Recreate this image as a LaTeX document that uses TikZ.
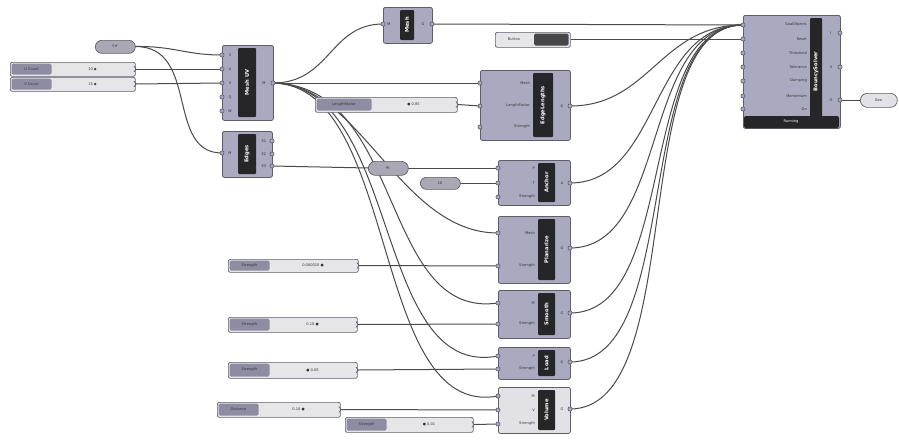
\documentclass[tikz,border=0pt]{standalone}
\usepackage{fontspec}
\setmainfont{DejaVu Sans}
\usetikzlibrary{backgrounds}
\definecolor{body}{HTML}{ABA9C0}
\definecolor{edgec}{HTML}{5E5D6A}
\definecolor{stripc}{HTML}{262629}
\definecolor{wirec}{HTML}{4A4A4A}
\definecolor{slab}{HTML}{8E8CA2}
\definecolor{sval}{HTML}{E6E6E8}
\definecolor{lite}{HTML}{E2E2E6}
\definecolor{pillc}{HTML}{A9A8B4}
\tikzset{
  comp/.style={draw=edgec, fill=body, line width=0.8pt, rounded corners=2pt, inner sep=0pt, anchor=north west},
  sld/.style={draw=edgec, fill=sval, line width=0.7pt, rounded corners=2pt, inner sep=0pt, anchor=north west},
  pillst/.style={draw=edgec, line width=0.7pt, inner sep=0pt, anchor=north west},
  portst/.style={draw=edgec, fill=body, line width=0.6pt},
  lbl/.style={font=\fontsize{3.6}{4}\selectfont, text=black!80, inner sep=0pt},
  ttl/.style={font=\fontsize{5.2}{6}\selectfont\bfseries, text=white, inner sep=0pt, rotate=90},
  wire/.style={draw=wirec, line width=1.0pt},
}
% name, x, y, w, h, stripx, stripw, title, fill
\newcommand{\ghcomp}[9]{%
  \node[comp, fill=#9, minimum width=#4pt, minimum height=#5pt] (#1) at (#2,#3) {};
  \fill[stripc, rounded corners=1pt] (#6,{#3+3}) rectangle ++(#7,{#5-6});
  \node[ttl] at ({#6+#7/2},{#3+#5/2}) {#8};}
% name, x, y, label x, label, anchor
\newcommand{\ghport}[6]{%
  \coordinate (#1) at (#2,#3);
  \draw[portst] (#2,#3) circle (2.1pt);
  \node[lbl, anchor=#6] at (#4,#3) {#5};}
% name, x, y, w, h, label width, label, value
\newcommand{\ghslider}[8]{%
  \node[sld, minimum width=#4pt, minimum height=#5pt] (#1) at (#2,#3) {};
  \fill[slab, rounded corners=1.5pt] ({#2+1.5},{#3+1.5}) rectangle ++(#6,{#5-3});
  \node[lbl] at ({#2+1.5+#6/2},{#3+#5/2}) {#7};
  \node[lbl] at ({#2+#6+(#4-#6)/2},{#3+#5/2}) {#8};
  \coordinate (#1-o) at ({#2+#4+1},{#3+#5/2});
  \draw[edgec, line width=0.7pt] ({#2+#4-1},{#3+#5/2-3}) -- (#1-o) -- ({#2+#4-1},{#3+#5/2+3});}
% name, x, y, w, h, label, fill
\newcommand{\ghpill}[7]{%
  \node[pillst, fill=#7, rounded corners={#5/2*1pt}, minimum width=#4pt, minimum height=#5pt] (#1) at (#2,#3) {};
  \node[lbl] at ({#2+#4/2},{#3+#5/2}) {#6};
  \coordinate (#1-i) at (#2,{#3+#5/2});
  \coordinate (#1-o) at ({#2+#4},{#3+#5/2});}
\begin{document}
\begin{tikzpicture}[x=1pt,y=-1pt]
\useasboundingbox (0,0) rectangle (899,439);
\begin{scope}[on background layer]
\fill[white] (0,0) rectangle (899,439);
\end{scope}

% ---------------- components ----------------
\ghcomp{Ctop}{383}{7}{49}{36}{400}{14}{Mesh}{body}
\ghport{Ctop-i}{383}{24}{389}{M}{center}
\ghport{Ctop-o}{432}{24}{423}{G}{center}

\ghcomp{MUV}{222}{45}{51}{75}{238}{18}{Mesh UV}{body}
\ghport{MUV-i1}{222}{55}{230}{S}{center}
\ghport{MUV-i2}{222}{69}{230}{U}{center}
\ghport{MUV-i3}{222}{83}{230}{V}{center}
\ghport{MUV-i4}{222}{97}{230}{Q}{center}
\ghport{MUV-i5}{222}{111}{230}{W}{center}
\ghport{MUV-o}{273}{83}{264}{M}{center}

\ghcomp{Cdec}{222}{131}{50}{46}{238}{18}{Edges}{body}
\ghport{Cdec-i}{222}{153}{230}{M}{center}
\ghport{Cdec-o1}{272}{141}{264}{E1}{center}
\ghport{Cdec-o2}{272}{154}{264}{E2}{center}
\ghport{Cdec-o3}{272}{166}{264}{E3}{center}

\ghcomp{EL}{480}{70}{90}{70}{533}{20}{EdgeLengths}{body}
\ghport{EL-i1}{480}{83}{530}{Mesh}{east}
\ghport{EL-i2}{480}{106}{530}{LengthFactor}{east}
\ghport{EL-i3}{480}{127}{530}{Strength}{east}
\ghport{EL-o}{570}{106}{562}{G}{center}

\ghcomp{Anc}{498}{160}{72}{45}{538}{17}{Anchor}{body}
\ghport{Anc-i1}{498}{168}{535}{P}{east}
\ghport{Anc-i2}{498}{183}{535}{T}{east}
\ghport{Anc-i3}{498}{197}{535}{Strength}{east}
\ghport{Anc-o}{570}{183}{562}{A}{center}

\ghcomp{Pla}{498}{216}{72}{67}{538}{17}{Planarize}{body}
\ghport{Pla-i1}{498}{233}{535}{Mesh}{east}
\ghport{Pla-i2}{498}{266}{535}{Strength}{east}
\ghport{Pla-o}{570}{248}{562}{G}{center}

\ghcomp{Smo}{498}{290}{72}{48}{538}{17}{Smooth}{body}
\ghport{Smo-i1}{498}{303}{535}{M}{east}
\ghport{Smo-i2}{498}{324}{535}{Strength}{east}
\ghport{Smo-o}{570}{313}{562}{G}{center}

\ghcomp{Loa}{498}{347}{72}{32}{538}{17}{Load}{body}
\ghport{Loa-i1}{498}{356}{535}{P}{east}
\ghport{Loa-i2}{498}{369}{535}{Strength}{east}
\ghport{Loa-o}{570}{362}{562}{G}{center}

\ghcomp{Vol}{498}{387}{72}{46}{538}{17}{Volume}{lite}
\ghport{Vol-i1}{498}{396}{535}{M}{east}
\ghport{Vol-i2}{498}{410}{535}{V}{east}
\ghport{Vol-i3}{498}{424}{535}{Strength}{east}
\ghport{Vol-o}{570}{409}{562}{G}{center}

\ghcomp{BS}{743}{15}{97}{113}{810}{12}{BouncySolver}{body}
\fill[stripc, rounded corners=2pt] (744,116) rectangle (839,128);
\node[lbl, text=white] (BSbar) at (791,122) {Running};
\ghport{BS-i1}{743}{25}{807}{GoalObjects}{east}
\ghport{BS-i2}{743}{39}{807}{Reset}{east}
\ghport{BS-i3}{743}{53}{807}{Threshold}{east}
\ghport{BS-i4}{743}{67}{807}{Tolerance}{east}
\ghport{BS-i5}{743}{81}{807}{Damping}{east}
\ghport{BS-i6}{743}{96}{807}{Momentum}{east}
\ghport{BS-i7}{743}{109}{807}{On}{east}
\ghport{BS-o1}{840}{33}{831}{I}{center}
\ghport{BS-o2}{840}{67}{831}{V}{center}
\ghport{BS-o3}{840}{100}{831}{O}{center}

% ---------------- sliders ----------------
\ghslider{SU}{10}{62}{125}{14}{40}{U Count}{10 ◆}
\ghslider{SV}{10}{77}{125}{14}{40}{V Count}{15 ◆}
\ghslider{SLF}{315}{97}{142}{15}{55}{LengthFactor}{● 0.85}
\ghslider{S1}{228}{259}{130}{13}{40}{Strength}{0.000010 ●}
\ghslider{S2}{228}{317}{129}{15}{40}{Strength}{0.10 ●}
\ghslider{S3}{228}{362}{129}{16}{40}{Strength}{● 0.05}
\ghslider{S4}{217}{402}{123}{15}{40}{Distance}{0.10 ●}
\ghslider{S5}{345}{417}{128}{15}{40}{Strength}{● 0.01}
% toggle
\node[sld, minimum width=75pt, minimum height=15pt] (TG) at (495,32) {};
\fill[stripc!85, rounded corners=1.5pt] (534,33.5) rectangle (568.5,45.5);
\node[lbl] at (514,39.5) {Button};
\coordinate (TG-o) at (571,39);

% ---------------- pills ----------------
\ghpill{P1}{95}{40}{40}{13}{Srf}{pillc}
\ghpill{P2}{368}{161}{40}{14}{Pt}{pillc}
\ghpill{P3}{420}{177}{40}{12}{10}{pillc}
\ghpill{Pout}{860}{93}{37}{14}{Geo}{lite}

% ---------------- wires ----------------
\begin{scope}[on background layer]
\draw[wire] (P1-o) .. controls (175,46) and (185,55) .. (MUV-i1);
\draw[wire] (P1-o) .. controls (200,46) and (165,153) .. (Cdec-i);
\draw[wire] (SU-o) -- (MUV-i2);
\draw[wire] (SV-o) -- (MUV-i3);
\draw[wire] (MUV-o) .. controls (330,83) and (330,24) .. (Ctop-i);
\draw[wire] (MUV-o) -- (EL-i1);
\draw[wire] (MUV-o) .. controls (360,83) and (400,233) .. (Pla-i1);
\draw[wire] (MUV-o) .. controls (405,85) and (380,320) .. (Smo-i1);
\draw[wire] (MUV-o) .. controls (402,85) and (372,380) .. (Loa-i1);
\draw[wire] (MUV-o) .. controls (400,85) and (370,420) .. (Vol-i1);
\draw[wire] (Cdec-o3) -- (P2-i);
\draw[wire] (P2-o) -- (Anc-i1);
\draw[wire] (P3-o) -- (Anc-i2);
\draw[wire] (SLF-o) -- (EL-i2);
\draw[wire] (S1-o) -- (Pla-i2);
\draw[wire] (S2-o) -- (Smo-i2);
\draw[wire] (S3-o) -- (Loa-i2);
\draw[wire] (S4-o) -- (Vol-i2);
\draw[wire] (S5-o) -- (Vol-i3);
\draw[wire] (Ctop-o) -- (BS-i1);
\draw[wire] (TG-o) -- (BS-i2);
\draw[wire] (EL-o) .. controls (650,106) and (660,25) .. (BS-i1);
\draw[wire] (Anc-o) .. controls (660,183) and (650,25) .. (BS-i1);
\draw[wire] (Pla-o) .. controls (670,248) and (640,25) .. (BS-i1);
\draw[wire] (Smo-o) .. controls (680,313) and (635,25) .. (BS-i1);
\draw[wire] (Loa-o) .. controls (685,362) and (630,25) .. (BS-i1);
\draw[wire] (Vol-o) .. controls (690,409) and (625,25) .. (BS-i1);
\draw[wire] (BS-o3) -- (Pout-i);
\end{scope}
\end{tikzpicture}
\end{document}
